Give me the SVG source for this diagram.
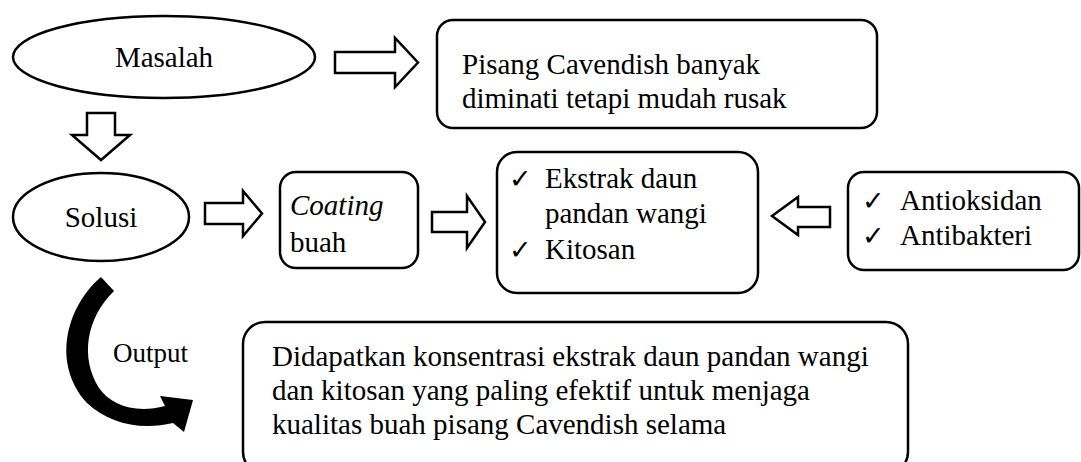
<svg xmlns="http://www.w3.org/2000/svg" width="1081" height="462" viewBox="0 0 1081 462">
<style>
.sh{fill:#fff;stroke:#000;stroke-width:2.5}
.ar{fill:#fff;stroke:#000;stroke-width:2.5;stroke-linejoin:miter}
.ck{font-family:'DejaVu Sans',sans-serif;font-size:27px}
</style>
<rect width="1081" height="462" fill="#fff"/>
<g font-family="'Liberation Serif', 'Times New Roman', serif" font-size="29" fill="#000">
<g id="masalah">
<ellipse class="sh" cx="164" cy="57" rx="151" ry="41"/>
<text x="164" y="67" text-anchor="middle">Masalah</text>
</g>
<g id="problem">
<rect class="sh" x="437" y="20" width="440" height="108" rx="16"/>
<text x="462" y="74">Pisang Cavendish banyak</text>
<text x="462" y="108">diminati tetapi mudah rusak</text>
</g>
<g id="solusi">
<ellipse class="sh" cx="101" cy="217" rx="88" ry="44"/>
<text x="101" y="227" text-anchor="middle">Solusi</text>
</g>
<g id="coating">
<rect class="sh" x="280" y="172" width="138" height="96" rx="16"/>
<text x="290" y="215" font-style="italic">Coating</text>
<text x="290" y="252">buah</text>
</g>
<g id="bahan">
<rect class="sh" x="497" y="152" width="261" height="141" rx="20"/>
<text class="ck" x="509" y="188">✓</text>
<text x="545" y="188">Ekstrak daun</text>
<text x="545" y="223">pandan wangi</text>
<text class="ck" x="509" y="259">✓</text>
<text x="545" y="259">Kitosan</text>
</g>
<g id="sifat">
<rect class="sh" x="848" y="172" width="231" height="98" rx="16"/>
<text class="ck" x="862" y="210">✓</text>
<text x="900" y="210">Antioksidan</text>
<text class="ck" x="862" y="245">✓</text>
<text x="900" y="245">Antibakteri</text>
</g>
<g id="hasil">
<rect class="sh" x="243" y="322" width="665" height="152" rx="22"/>
<text x="272" y="366">Didapatkan konsentrasi ekstrak daun pandan wangi</text>
<text x="272" y="400">dan kitosan yang paling efektif untuk menjaga</text>
<text x="272" y="434">kualitas buah pisang Cavendish selama</text>
</g>
<g id="output-label">
<text x="113" y="362" font-size="27">Output</text>
</g>
</g>
<g id="connectors">
<path class="ar" d="M335 52 H395 V38 L418 62.5 L395 87 V73 H335 Z"/>
<path class="ar" d="M87 113 H115 V135 H130 L101 160 L72 135 H87 Z"/>
<path class="ar" d="M205 203 H243 V191 L262 213.5 L243 236 V224 H205 Z"/>
<path class="ar" d="M432 212 H467 V196 L485 222 L467 248 V232 H432 Z"/>
<path class="ar" d="M830 207 H798 V197 L772 216 L798 235 V227 H830 Z"/>
<path fill="#000" d="M101 277 C68 305 50 362 87 403 C108 423 140 431 173 423 L184 432 L193 400 L160 396 L165 406 C135 414 111 405 99 388 C80 358 86 318 114 291 Z"/>
</g>
</svg>
